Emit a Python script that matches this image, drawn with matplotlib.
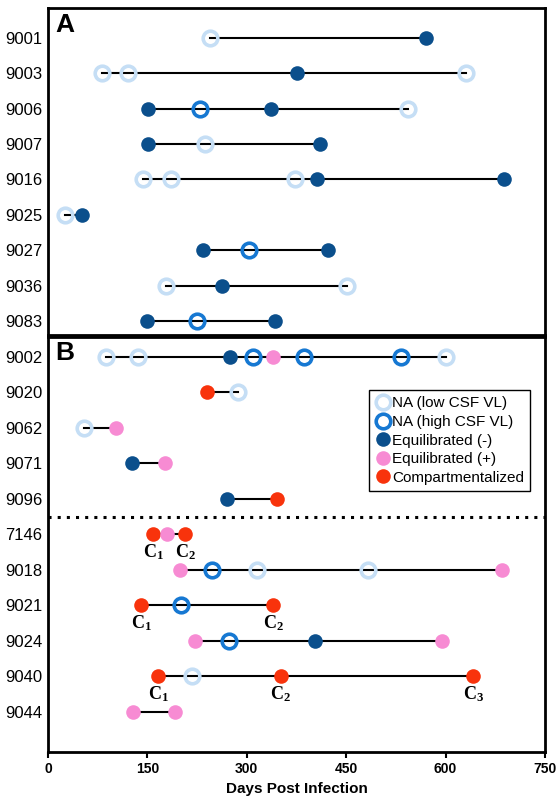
import matplotlib
matplotlib.use("Agg")
import matplotlib.pyplot as plt
from matplotlib.lines import Line2D

plt.rcParams['font.family'] = ['Liberation Sans', 'DejaVu Sans']
plt.rcParams['mathtext.fontset'] = 'custom'
plt.rcParams['mathtext.rm'] = 'Liberation Serif'
plt.rcParams['mathtext.bf'] = 'Liberation Serif:bold'

# status codes: L = NA low CSF VL, H = NA high CSF VL, E = Equilibrated (-), P = Equilibrated (+), C = Compartmentalized
ids_a = ["9001", "9003", "9006", "9007", "9016", "9025", "9027", "9036", "9083"]
days_a = [[244, 571], [81, 121, 375, 631], [151, 229, 337, 543], [151, 237, 411],
          [144, 186, 372, 406, 688], [25, 51], [234, 303, 423], [178, 262, 451], [150, 225, 343]]
stat_a = ["LE", "LLEL", "EHEL", "ELE", "LLLEE", "LE", "EHE", "LEL", "EHE"]

ids_b = ["9002", "9020", "9062", "9071", "9096", "7146", "9018", "9021", "9024", "9040", "9044"]
days_b = [[88, 136, 274, 310, 339, 387, 532, 600], [240, 286], [54, 103], [127, 177], [270, 346],
          [159, 180, 207], [199, 247, 315, 483, 685], [141, 201, 340], [222, 273, 403, 594],
          [166, 218, 351, 642], [128, 191]]
stat_b = ["LLEHPHHL", "CL", "LP", "EP", "EC", "CPC", "PHLLP", "CHC", "PHEP", "CLCC", "PP"]
# compartment labels: (row, day, label)
c_labels = [(5, 159, "1"), (5, 207, "2"), (7, 141, "1"), (7, 340, "2"),
            (9, 166, "1"), (9, 351, "2"), (9, 642, "3")]

styles = {
    "L": dict(marker='o', mfc='none', mec='#c5def5', mew=2.6),
    "H": dict(marker='o', mfc='none', mec='#1678d2', mew=2.6),
    "E": dict(marker='o', mfc='#0b4f8c', mec='#0b4f8c', mew=0),
    "P": dict(marker='o', mfc='#f78bd3', mec='#f78bd3', mew=0),
    "C": dict(marker='o', mfc='#f8330c', mec='#f8330c', mew=0),
}
names = {"L": "NA (low CSF VL)", "H": "NA (high CSF VL)", "E": "Equilibrated (-)",
         "P": "Equilibrated (+)", "C": "Compartmentalized"}
ms = {"L": 10.5, "H": 10.5, "E": 10.5, "P": 10.5, "C": 10.5}

fig = plt.figure(figsize=(5.58, 8), dpi=100)
axA = fig.add_axes([48/558, 1-335/800, 497/558, 327/800])
axB = fig.add_axes([48/558, 1-752/800, 497/558, 415/800])

def draw(ax, ids, days, stats):
    for i, (d, s) in enumerate(zip(days, stats)):
        ax.plot([min(d), max(d)], [i, i], color='black', lw=1.5, zorder=1)
        for x, c in zip(d, s):
            ax.plot([x], [i], ls='none', ms=ms[c], zorder=3, **styles[c])
    ax.set_yticks(range(len(ids)))
    ax.set_yticklabels(ids, fontsize=12)
    ax.set_xlim(0, 750)
    for sp in ax.spines.values():
        sp.set_linewidth(2)

draw(axA, ids_a, days_a, stat_a)
axA.set_ylim(8.4, -0.85)
axA.set_xticks([0, 150, 300, 450, 600, 750])
axA.tick_params(axis='x', length=0, labelbottom=False)
axA.tick_params(axis='y', length=0, pad=4)
axA.text(0.015, 0.985, "A", transform=axA.transAxes, fontsize=19, fontweight='bold', va='top')

draw(axB, ids_b, days_b, stat_b)
axB.set_ylim(11.13, -0.56)
axB.axhline(4.5, color='black', ls=(0, (1, 2)), lw=2.2)
axB.set_xticks([0, 150, 300, 450, 600, 750])
axB.tick_params(axis='x', length=4, width=1.5, labelsize=10)
axB.tick_params(axis='y', length=0, pad=4)
for lbl in axB.get_xticklabels():
    lbl.set_fontweight('bold')
axB.set_xlabel("Days Post Infection", fontsize=11, fontweight='bold')
axB.text(0.015, 0.99, "B", transform=axB.transAxes, fontsize=19, fontweight='bold', va='top')
for r, x, n in c_labels:
    axB.text(x, r + 0.5, r"$\mathbf{C_%s}$" % n, ha='center', va='center', fontsize=13)

handles = [Line2D([], [], ls='none', ms=10.5, **styles[k]) for k in "LHEPC"]
leg = axB.legend(handles, [names[k] for k in "LHEPC"], loc='upper right',
                 bbox_to_anchor=(0.985, 0.89), fontsize=11, handletextpad=0.1,
                 handlelength=1.0, borderpad=0.4, labelspacing=0.3, fancybox=False,
                 framealpha=1, edgecolor='black')
leg.get_frame().set_linewidth(1.0)

fig.savefig("out.png", dpi=100)
